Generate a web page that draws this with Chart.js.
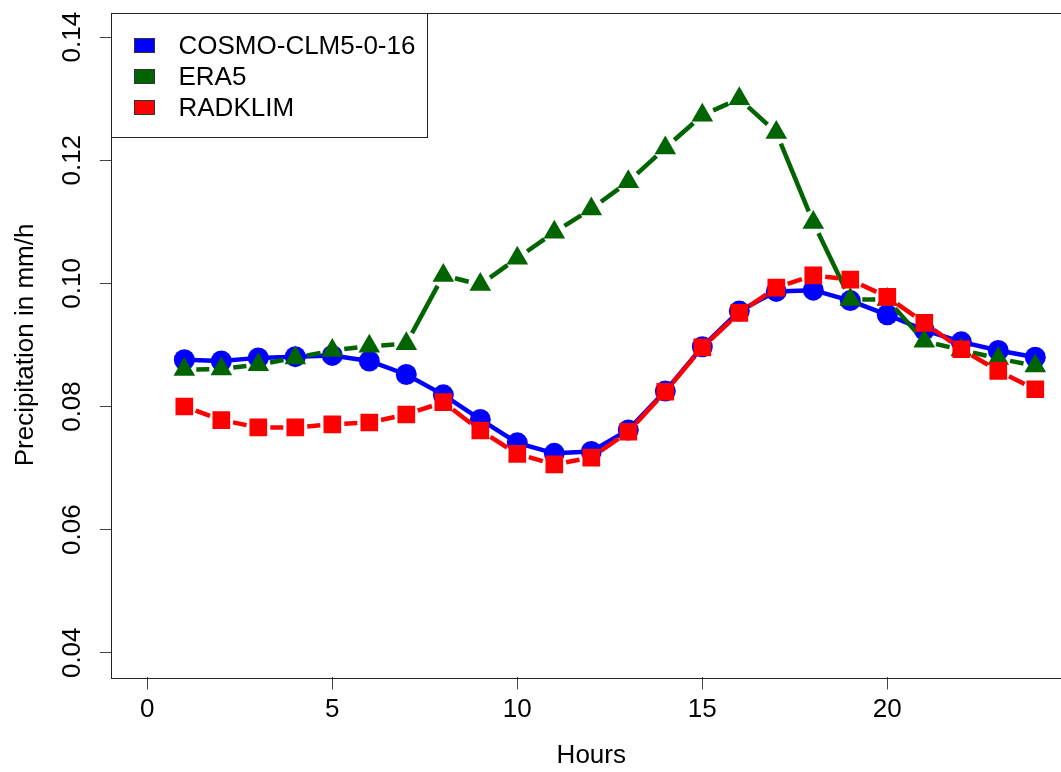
<!DOCTYPE html>
<html>
<head>
<meta charset="utf-8">
<script src="https://cdn.jsdelivr.net/npm/chart.js@4.4.0/dist/chart.umd.min.js"></script>
<style>
  html, body { margin: 0; padding: 0; background: #fff; overflow: hidden; }
  canvas { display: block; }
</style>
</head>
<body>
<canvas id="precipChart" width="1100" height="772"></canvas>
<script>
const hours = [1, 2, 3, 4, 5, 6, 7, 8, 9, 10, 11, 12, 13, 14, 15, 16, 17, 18, 19, 20, 21, 22, 23, 24];

const cosmo = [0.0876, 0.0874, 0.0879, 0.0881, 0.0883, 0.0874, 0.0852, 0.0819, 0.0779, 0.0741, 0.0724, 0.0727,
  0.0762, 0.0825, 0.0897, 0.0955, 0.0987, 0.0989, 0.0972, 0.0949, 0.0924, 0.0905, 0.0891, 0.0880];
const era5 = [0.0860, 0.0861, 0.0868, 0.0879, 0.0891, 0.0898, 0.0902, 0.1013, 0.0998, 0.1041, 0.1083, 0.1121,
  0.1165, 0.1220, 0.1273, 0.1300, 0.1245, 0.1099, 0.0974, 0.0974, 0.0906, 0.0892, 0.0878, 0.0866];
const radklim = [0.0800, 0.0778, 0.0766, 0.0766, 0.0771, 0.0774, 0.0787, 0.0807, 0.0761, 0.0723, 0.0706, 0.0717,
  0.0759, 0.0824, 0.0896, 0.0952, 0.0993, 0.1013, 0.1006, 0.0978, 0.0936, 0.0893, 0.0858, 0.0828];

const seriesNames = ['COSMO-CLM5-0-16', 'ERA5', 'RADKLIM'];
const xTitle = 'Hours';
const yTitle = 'Precipitation in mm/h';

const FONT = "'Liberation Sans', Arial, sans-serif";

const toPoints = (vals) => hours.map((h, i) => ({ x: h, y: vals[i] }));

// R type="b": leave a gap around every point on each line segment
const gapSegment = (gap) => {
  const seg = (c) => {
    const len = Math.hypot(c.p1.x - c.p0.x, c.p1.y - c.p0.y);
    const off = 2 * gap + 1000 + c.p0DataIndex * 0.001;
    const on = Math.max(len - 2 * gap, 0);
    return { on, off };
  };
  return {
    borderDash: (c) => {
      const { on, off } = seg(c);
      return [on, off];
    },
    borderDashOffset: (c) => {
      const { on, off } = seg(c);
      return on > 0 ? on + off - gap : 0;
    }
  };
};

// box around the plot region
const plotBox = {
  id: 'plotBox',
  afterDraw(chart) {
    const { ctx, chartArea } = chart;
    ctx.save();
    ctx.strokeStyle = '#222';
    ctx.lineWidth = 1;
    ctx.strokeRect(Math.round(chartArea.left) - 0.5, Math.round(chartArea.top) + 0.5,
      Math.round(chartArea.right - chartArea.left), Math.round(chartArea.bottom - chartArea.top));
    ctx.restore();
  }
};

// legend in the top left corner, drawn from the datasets
const boxLegend = {
  id: 'boxLegend',
  afterDraw(chart) {
    const { ctx, chartArea } = chart;
    const x0 = Math.round(chartArea.left) - 0.5;
    const y0 = Math.round(chartArea.top) + 0.5;
    ctx.save();
    ctx.fillStyle = '#fff';
    ctx.fillRect(x0, y0, 316, 124);
    ctx.strokeStyle = '#222';
    ctx.lineWidth = 1;
    ctx.strokeRect(x0, y0, 316, 124);

    ctx.font = `26px ${FONT}`;
    ctx.textBaseline = 'middle';
    ctx.textAlign = 'left';
    chart.data.datasets.forEach((ds, i) => {
      const cy = y0 + 32 + i * 31;
      ctx.fillStyle = ds.backgroundColor;
      ctx.fillRect(x0 + 23, cy - 7, 20, 14);
      ctx.strokeStyle = '#333';
      ctx.strokeRect(x0 + 23, cy - 7, 20, 14);
      ctx.fillStyle = '#000';
      ctx.fillText(ds.label, x0 + 67, cy + 1);
    });
    ctx.restore();
  }
};

const ctx = document.getElementById('precipChart').getContext('2d');

new Chart(ctx, {
  type: 'line',
  data: {
    datasets: [
      {
        label: seriesNames[0],
        data: toPoints(cosmo),
        borderColor: '#0000ff',
        backgroundColor: '#0000ff',
        borderWidth: 4.5,
        pointStyle: 'circle',
        pointRadius: 10.5,
        pointBorderWidth: 0,
        order: 3
      },
      {
        label: seriesNames[1],
        data: toPoints(era5),
        borderColor: '#006400',
        backgroundColor: '#006400',
        borderWidth: 4.5,
        segment: gapSegment(12),
        pointStyle: 'triangle',
        pointRadius: 12.5,
        pointBorderWidth: 0,
        order: 2
      },
      {
        label: seriesNames[2],
        data: toPoints(radklim),
        borderColor: '#ff0000',
        backgroundColor: '#ff0000',
        borderWidth: 4.5,
        segment: gapSegment(12),
        pointStyle: 'rect',
        pointRadius: 12.5,
        pointBorderWidth: 0,
        order: 1
      }
    ]
  },
  options: {
    responsive: false,
    animation: false,
    devicePixelRatio: 1,
    layout: {
      padding: { top: 10.6, right: 29.2, left: 0, bottom: 0 }
    },
    plugins: {
      legend: { display: false },
      tooltip: { enabled: false }
    },
    scales: {
      x: {
        type: 'linear',
        min: -0.96,
        max: 24.96,
        afterFit: (scale) => {
          scale.height = 94.6;
          scale.paddingLeft = 0;
          scale.paddingRight = 0;
        },
        border: { display: false },
        grid: { drawOnChartArea: false, drawTicks: true, tickLength: 12, color: '#444' },
        ticks: {
          stepSize: 5,
          includeBounds: false,
          color: '#000',
          padding: 5,
          font: { family: FONT, size: 26 }
        },
        title: {
          display: true,
          text: xTitle,
          color: '#000',
          font: { family: FONT, size: 26 },
          padding: { top: 0, bottom: 1 }
        }
      },
      y: {
        min: 0.036,
        max: 0.144,
        afterFit: (scale) => {
          scale.width = 111.8;
          scale.paddingTop = 0;
          scale.paddingBottom = 0;
        },
        border: { display: false },
        grid: { drawOnChartArea: false, drawTicks: true, tickLength: 12, color: '#444' },
        ticks: {
          stepSize: 0.02,
          includeBounds: false,
          minRotation: 90,
          maxRotation: 90,
          crossAlign: 'center',
          padding: 2,
          color: '#000',
          font: { family: FONT, size: 26 },
          callback: (v) => v.toFixed(2)
        },
        title: {
          display: true,
          text: yTitle,
          color: '#000',
          font: { family: FONT, size: 26 },
          padding: { top: 10, bottom: 0 }
        }
      }
    }
  },
  plugins: [plotBox, boxLegend]
});
</script>
</body>
</html>
